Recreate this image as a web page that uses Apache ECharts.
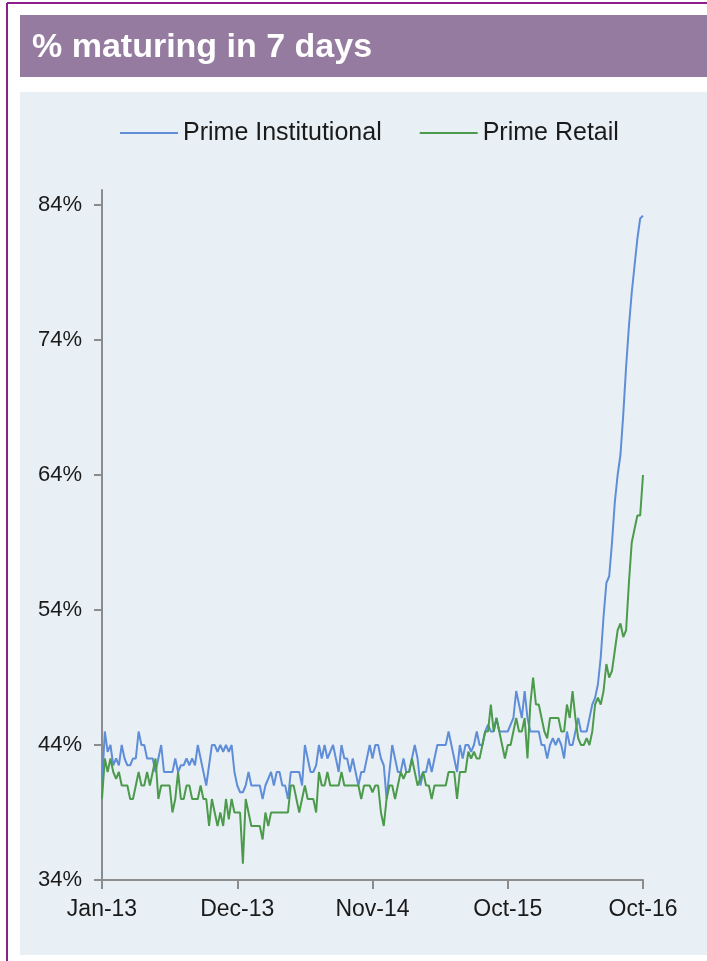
<!DOCTYPE html>
<html>
<head>
<meta charset="utf-8">
<script src="https://cdn.jsdelivr.net/npm/echarts@6/dist/echarts.min.js"></script>
<style>
  html, body { margin: 0; padding: 0; background: #ffffff; }
  #chart { width: 707px; height: 961px; }
</style>
</head>
<body>
<div id="chart"></div>
<script>
// Weekly share of assets maturing within 7 days, Jan-13 to Oct-16
const tickLabels = ['Jan-13', 'Dec-13', 'Nov-14', 'Oct-15', 'Oct-16'];
const yTicks = [34, 44, 54, 64, 74, 84];

const primeInstitutional = [
  41, 45, 43.5, 44, 42.5, 43, 42.5, 44, 43, 42.5,
  42.5, 43, 43, 45, 44, 44, 43, 43, 43, 42,
  43, 44, 42, 42, 42, 42, 43, 42, 42.5, 42.5,
  43, 42.5, 43, 42.5, 44, 43, 42, 41, 42.5, 44,
  44, 43.5, 44, 43.5, 44, 43.5, 44, 42,
  41, 40.5, 40.5, 41, 42, 41, 41, 41, 41, 40,
  41, 41.5, 42, 41, 42, 42, 41, 41, 40, 42,
  42, 42, 42, 41, 44, 43, 42, 42, 42.5, 44,
  43, 44, 43, 43.5, 44, 43, 42, 44, 43, 43,
  42, 43, 42, 41, 42, 42, 43, 44, 43,
  44, 44, 43, 42.5, 40, 42, 44, 43, 42, 42,
  43, 42, 42, 43, 44, 43, 41, 42, 42, 43,
  42, 43, 44, 44, 44, 44, 45, 44, 43, 42,
  44, 43, 44, 44, 43.5, 44, 45, 44, 44, 45,
  45.5, 45, 45, 46, 45, 45, 45,
  45, 45.5, 46, 48, 47, 46, 48, 46, 45, 45,
  45, 45, 44, 44, 43, 44, 44.5, 44, 44.5, 44,
  43, 45, 44, 44, 45, 46, 45, 45, 45, 46,
  47, 47.5,
  48.5, 50.5, 53.5, 56, 56.5, 59, 62, 64, 65.5, 68.5,
  72, 75, 77.5, 79.5, 81.5, 83, 83.2
];

const primeRetail = [
  40, 43, 42, 43, 42, 41.5, 42, 41, 41, 41,
  40, 40, 41, 42, 41, 41, 42, 41, 42, 43,
  40, 41, 41, 41, 41, 39, 40, 42, 40, 40,
  41, 41, 40, 40, 40, 41, 40, 40, 38, 40,
  39, 38, 39, 38, 40, 38.5, 40, 39,
  39, 39, 35.2, 40, 39, 38, 38, 38, 38, 37,
  39, 38, 39, 39, 39, 39, 39, 39, 39, 41,
  41, 40, 39, 40, 41, 40, 40, 40, 39, 42,
  41, 41, 42, 41, 41, 41, 41, 42, 41, 41,
  41, 41, 41, 41, 40, 41, 41, 41, 40.5,
  41, 41, 39, 38, 40, 41, 41, 40, 41, 42,
  41.5, 42, 42, 43, 42, 41, 41.5, 42, 41, 41,
  40, 41, 41, 41, 41, 41, 42, 42, 42, 40,
  42, 42, 42, 43.5, 43, 43.5, 43, 43, 44, 45,
  45, 47, 45, 46, 45, 44, 43,
  44, 44, 45, 46, 45, 45, 46, 43, 47, 49,
  47, 47, 46, 45, 44.5, 46, 46, 46, 46, 45,
  45, 47, 46, 48, 46, 44.5, 44, 44, 44.5, 44,
  45, 47,
  47.5, 47, 48, 50, 49, 49.5, 51, 52.5, 53, 52,
  52.5, 56, 59, 60, 61, 61, 64
];

const weeksPerTick = 48;
const categories = primeInstitutional.map((_, i) => i);

const chart = echarts.init(document.getElementById('chart'), null, { renderer: 'canvas' });

const axisGrey = '#8c8c8c';
const labelFont = 'Liberation Sans, Arial, sans-serif';
const textColor = '#1a1a1a';

chart.setOption({
  animation: false,
  backgroundColor: '#ffffff',
  graphic: [
    // outer frame (top and left edges)
    { type: 'line', z: -10, shape: { x1: 7, y1: 3, x2: 707, y2: 3 }, style: { stroke: '#8d1f8d', lineWidth: 2 } },
    { type: 'line', z: -10, shape: { x1: 7, y1: 3, x2: 7, y2: 961 }, style: { stroke: '#8d1f8d', lineWidth: 2 } },
    // header band
    { type: 'rect', z: -10, shape: { x: 20, y: 15, width: 687, height: 62 }, style: { fill: '#967ba0' } },
    {
      type: 'text', z: 10, x: 32, y: 48,
      style: {
        text: '% maturing in 7 days',
        fill: '#ffffff',
        font: 'bold 34px ' + labelFont,
        verticalAlign: 'middle'
      }
    },
    // chart panel
    { type: 'rect', z: -10, shape: { x: 20, y: 92, width: 687, height: 863 }, style: { fill: '#e9f0f5' } }
  ],
  legend: {
    left: 115,
    top: 114,
    itemWidth: 58,
    itemHeight: 2,
    itemGap: 38,
    icon: 'rect',
    textStyle: { fontFamily: labelFont, fontSize: 25, color: textColor, lineHeight: 28 },
    data: ['Prime Institutional', 'Prime Retail']
  },
  grid: { left: 102, right: 64, top: 190, bottom: 81, containLabel: false },
  xAxis: {
    type: 'category',
    data: categories,
    boundaryGap: false,
    axisLine: { lineStyle: { color: axisGrey, width: 2 } },
    axisTick: { show: true, interval: weeksPerTick - 1, length: 9, lineStyle: { color: axisGrey, width: 2 } },
    axisLabel: {
      interval: weeksPerTick - 1,
      margin: 18,
      fontFamily: labelFont,
      fontSize: 23,
      color: textColor,
      formatter: (v, idx) => tickLabels[idx / weeksPerTick] || ''
    },
    splitLine: { show: false }
  },
  yAxis: {
    type: 'value',
    min: 34,
    max: 84 + 15 / 13.5,
    axisLine: { show: true, lineStyle: { color: axisGrey, width: 2 } },
    axisTick: { show: true, customValues: yTicks, length: 8, lineStyle: { color: axisGrey, width: 2 } },
    axisLabel: {
      customValues: yTicks,
      margin: 20,
      fontFamily: labelFont,
      fontSize: 22,
      color: textColor,
      formatter: v => v + '%'
    },
    splitLine: { show: false }
  },
  series: [
    {
      name: 'Prime Institutional',
      type: 'line',
      data: primeInstitutional,
      showSymbol: false,
      symbol: 'none',
      itemStyle: { color: '#5f8dd8' },
      lineStyle: { color: '#5f8dd8', width: 2 }
    },
    {
      name: 'Prime Retail',
      type: 'line',
      data: primeRetail,
      showSymbol: false,
      symbol: 'none',
      itemStyle: { color: '#4c9a4c' },
      lineStyle: { color: '#4c9a4c', width: 2 }
    }
  ]
});
</script>
</body>
</html>
